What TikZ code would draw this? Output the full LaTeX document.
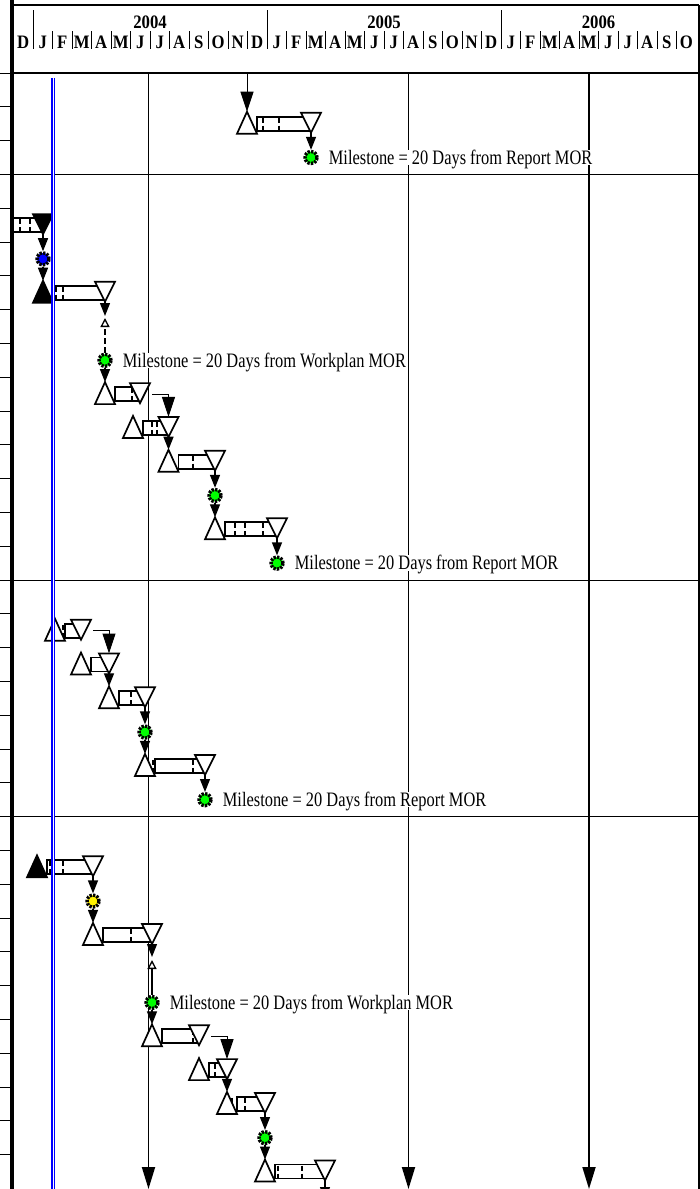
\documentclass[tikz,border=0pt]{standalone}
\usepackage{fontspec}
\setmainfont{Liberation Serif}
\newfontfamily\headfont[FakeStretch=0.88]{Liberation Serif}
\newfontfamily\notefont[FakeStretch=0.8]{Liberation Serif}
\usepackage{tikz}
\usetikzlibrary{arrows.meta,positioning}

% one task: name, row centre, start, finish, start fill, finish fill, dashed marks
\newcommand{\ganttbar}[7]{%
  \draw[barbox] ({#3+10},{#2-7}) rectangle (#4,{#2+7});
  \def\ganttmarks{#7}%
  \ifx\ganttmarks\empty\else
    \foreach \mk in {#7} \draw[barmark] (\mk,{#2-6}) -- (\mk,{#2+6});
  \fi
  \draw[tri, fill=#5] (#3,{#2-12}) -- ({#3-10},{#2+10}) -- ({#3+10},{#2+10}) -- cycle;
  \draw[tri, fill=#6] ({#4-10},{#2-11}) -- ({#4+10},{#2-11}) -- (#4,{#2+9}) -- cycle;
  \coordinate (#1-s) at (#3,{#2-12});
  \coordinate (#1-e) at (#4,{#2+9});
  \coordinate (#1-t) at (#4,{#2-11});
  \coordinate (#1-r) at ({#4+12},#2);
}

\begin{document}
\begin{tikzpicture}[
  x=1pt, y=-1pt,
  gridline/.style={line width=1pt},
  frameline/.style={line width=2.5pt},
  yearlbl/.style={font=\headfont\bfseries\fontsize{19}{20}\selectfont, anchor=base, inner sep=0pt},
  monthlbl/.style={font=\headfont\bfseries\fontsize{19}{20}\selectfont, anchor=base, inner sep=0pt},
  deadline/.style={line width=1.8pt, -{Triangle[length=22pt,width=13pt]}},
  barbox/.style={draw=black, fill=white, line width=1.7pt},
  tri/.style={draw=black, line width=1.7pt},
  barmark/.style={line width=1.3pt, dash pattern=on 5pt off 3pt},
  gearmark/.style={circle, draw=black, line width=3.4pt, dash pattern=on 2.3pt off 1.2pt,
                   minimum size=12pt, inner sep=0pt},
  msnote/.style={font=\notefont\fontsize{20.5}{22}\selectfont, fill=white, inner sep=1pt,
                 text height=13.5pt, text depth=0pt},
  dep/.style={line width=1.3pt, -{Triangle[length=13pt,width=10pt]}},
  fflink/.style={line width=1pt, -{Triangle[length=20pt,width=13pt]}},
  lagline/.style={line width=1.3pt, -{Triangle[open,length=9pt,width=9pt]}},
  todayline/.style={draw=blue, double=white, double distance=1pt, line width=1.4pt},
]
\useasboundingbox (0,0) rectangle (700,1189);

% frame and time scale
\draw[line width=4pt] (12,0) -- (12,1189);
\draw[frameline] (12,5) -- (699,5);
\draw[line width=2pt] (698.5,5) -- (698.5,1189);
\draw[frameline] (12,73) -- (699,73);
\foreach \yr/\x in {2004/150,2005/384,2006/598.5}
  \node[yearlbl] (y\yr) at (\x,28) {\yr};
\foreach \x in {33,267,501}
  \draw[gridline] (\x,10) -- (\x,31);
\foreach \m [count=\k from 0] in {D,J,F,M,A,M,J,J,A,S,O,N,D,J,F,M,A,M,J,J,A,S,O,N,D,J,F,M,A,M,J,J,A,S,O}
  \node[monthlbl] (mo\k) at ({23.25+19.5*\k},48) {\m};
\foreach \k in {1,...,34}
  \draw[gridline] ({13.5+19.5*\k},31) -- ({13.5+19.5*\k},49);

% row ticks and group rules
\foreach \k in {0,...,32}
  \draw[gridline] (0,{73+33.8*\k}) -- (12,{73+33.8*\k});
\foreach \k in {3,15,22}
  \draw[gridline] (12,{73+33.8*\k}) -- (699,{73+33.8*\k});

% deadlines
\foreach \x [count=\i] in {148.5,408.5,589} {
  \coordinate (dl\i t) at (\x,74);
  \coordinate (dl\i b) at (\x,1189);
  \draw[deadline] (dl\i t) -- (dl\i b);
}

\begin{scope}
\clip (14,74) rectangle (700,1189);

% tasks
\ganttbar{t1}{123.7}{247}{311}{white}{white}{263,279}
\ganttbar{t2}{225.1}{-20}{43}{white}{black}{20,30}
\ganttbar{t3}{292.7}{43}{105}{black}{white}{56,63}
\ganttbar{t4}{394.1}{105}{140}{white}{white}{132}
\ganttbar{t5}{427.9}{133}{168.5}{white}{white}{152,157}
\ganttbar{t6}{461.7}{168.5}{215}{white}{white}{193}
\ganttbar{t7}{529.3}{215}{277}{white}{white}{235,245,263}
\ganttbar{t8}{630.7}{55}{81}{white}{white}{63}
\ganttbar{t9}{664.5}{81}{109}{white}{white}{}
\ganttbar{t10}{698.3}{109}{145}{white}{white}{131}
\ganttbar{t11}{765.9}{145}{205}{white}{white}{153,193}
\ganttbar{t12}{867.3}{37}{93}{black}{white}{50,63}
\ganttbar{t13}{934.9}{93}{152}{white}{white}{131}
\ganttbar{t14}{1036.3}{152}{199}{white}{white}{193}
\ganttbar{t15}{1070.1}{199}{227}{white}{white}{215}
\ganttbar{t16}{1103.9}{227}{265}{white}{white}{232,245}
\ganttbar{t17}{1171.5}{265}{325}{white}{white}{278,302}

% milestones
\node[gearmark, fill=green] (m1) at (311,157.5) {};
\node[gearmark, fill=blue] (m2) at (43,258.9) {};
\node[gearmark, fill=green] (m3) at (105,360.3) {};
\node[gearmark, fill=green] (m4) at (215,495.5) {};
\node[gearmark, fill=green] (m5) at (277,563.1) {};
\node[gearmark, fill=green] (m6) at (145,732.1) {};
\node[gearmark, fill=green] (m7) at (205,799.7) {};
\node[gearmark, fill=yellow] (m8) at (93,901.1) {};
\node[gearmark, fill=green] (m9) at (152,1002.5) {};
\node[gearmark, fill=green] (m10) at (265,1137.7) {};

\node[msnote, right=9pt of m1] (n1) {Milestone = 20 Days from Report MOR};
\node[msnote, right=9pt of m3] (n3) {Milestone = 20 Days from Workplan MOR};
\node[msnote, right=9pt of m5] (n5) {Milestone = 20 Days from Report MOR};
\node[msnote, right=9pt of m7] (n7) {Milestone = 20 Days from Report MOR};
\node[msnote, right=9pt of m9] (n9) {Milestone = 20 Days from Workplan MOR};

% links
\coordinate (in1) at (247,74);
\draw[fflink] (in1) -- (t1-s);
\draw[dep] (t1-e) -- (m1);

\draw[dep] (t2-e) -- (m2);
\draw[dep] (m2) -- (t3-s);
\coordinate (t3-d) at (105,316);
\coordinate (lag3) at (105,318);
\draw[dep] (t3-e) -- (t3-d);
\draw[lagline, dash pattern=on 6pt off 3pt] (m3) -- (lag3);
\draw[dep] (m3) -- (t4-s);
\draw[fflink] (t4-r) -| (t5-t);
\draw[dep] (t5-e) -- (t6-s);
\draw[dep] (t6-e) -- (m4);
\draw[dep] (m4) -- (t7-s);
\draw[dep] (t7-e) -- (m5);

\draw[fflink] (t8-r) -| (t9-t);
\draw[dep] (t9-e) -- (t10-s);
\draw[dep] (t10-e) -- (m6);
\draw[dep] (m6) -- (t11-s);
\draw[dep] (t11-e) -- (m7);

\draw[dep] (t12-e) -- (m8);
\draw[dep] (m8) -- (t13-s);
\coordinate (t13-d) at (152,957);
\coordinate (lag13) at (152,960);
\draw[dep] (t13-e) -- (t13-d);
\draw[lagline] (m9) -- (lag13);
\draw[dep] (m9) -- (t14-s);
\draw[fflink] (t14-r) -| (t15-t);
\draw[dep] (t15-e) -- (t16-s);
\draw[dep] (t16-e) -- (m10);
\draw[dep] (m10) -- (t17-s);
\coordinate (out17) at (325,1200);
\draw[dep] (t17-e) -- (out17);

% status date
\coordinate (now-t) at (53,78);
\coordinate (now-b) at (53,1189);
\draw[todayline] (now-t) -- (now-b);
\end{scope}

\end{tikzpicture}
\end{document}
